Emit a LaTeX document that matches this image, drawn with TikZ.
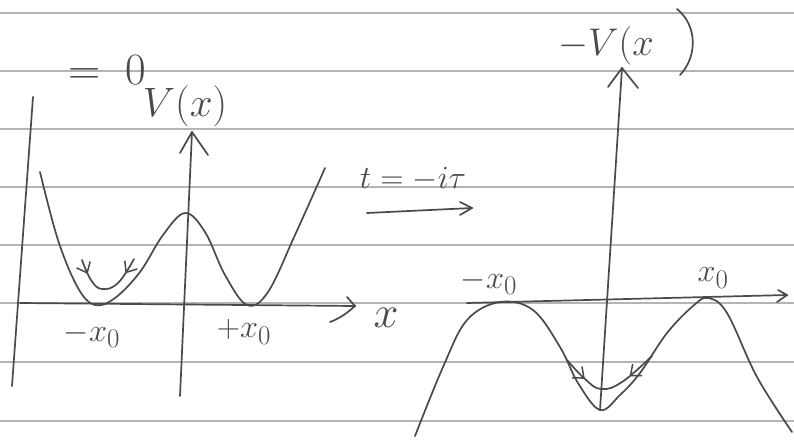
\documentclass[tikz,border=0pt]{standalone}
\usetikzlibrary{arrows.meta,decorations.markings,calc}
\definecolor{inkc}{HTML}{4A4A4A}
\definecolor{rulec}{HTML}{B4B4B4}
\tikzset{mybarb/.tip={Straight Barb[length=9pt,width=15pt,line width=1.5pt]}}
\begin{document}
\begin{tikzpicture}[x=1pt,y=-1pt,
  ink/.style={draw=inkc, line width=1.7pt, line cap=round, line join=round},
  rule/.style={draw=rulec, line width=1.1pt},
  lbl/.style={text=inkc, inner sep=0pt, font=\Huge, scale=#1},
  lbl/.default=1,
  inarrows/.style 2 args={postaction={decorate}, decoration={markings,
     mark=at position #1 with {\arrow[inkc]{mybarb}},
     mark=at position #2 with {\arrowreversed[inkc]{mybarb}}}}]
\useasboundingbox (0,0) rectangle (794,439);
\fill[white] (0,0) rectangle (794,439);
% ruled paper
\foreach \yy in {13,71,129,187,245,303,362,421} \draw[rule] (0,\yy) -- (794,\yy);

% ---------- left picture ----------
\coordinate (mtop) at (33,97);
\coordinate (mbot) at (12,386);
\draw[ink] (mtop) -- (mbot);
\node[lbl=1.8] (eqz) at (107,70) {$=\;0$};

\coordinate (ly0) at (180,396);
\coordinate (ly1) at (192,132);
\draw[ink] (ly0) -- (ly1);
\draw[ink] (ly1) -- ++(-12,21);
\draw[ink] (ly1) -- ++(16,23);
\node[lbl=1.65] (lV) at (185,106) {$V(x)$};

\coordinate (lx0) at (20,303);
\coordinate (lx1) at (355,306);
\draw[ink] (lx0) -- (lx1);
\draw[ink] (lx1) -- ++(-8,-9);
\draw[ink] (lx1) .. controls (345,315) and (338,319) .. (330,322);
\node[lbl=1.8] (lxl) at (386,318) {$x$};

\draw[ink] plot[smooth, tension=0.6] coordinates {(40,172) (58,240) (78,288) (95,305) (115,298) (140,272) (163,235) (185,213) (205,232) (225,275) (247,305) (268,292) (295,235) (325,168)};
\draw[ink, inarrows={0.18}{0.8}] plot[smooth, tension=0.7] coordinates {(82,260) (91,280) (102,289) (118,283) (134,259)};

\node[lbl=1.3] (lmx) at (92,335) {$-x_0$};
\node[lbl=1.3] (lpx) at (244,332) {$+x_0$};

% ---------- middle ----------
\node[lbl=1.3] (tt) at (413,179) {$t=-i\tau$};
\coordinate (ma0) at (367,213);
\coordinate (ma1) at (472,208);
\draw[ink] (ma0) -- (ma1);
\draw[ink] (ma1) -- ++(-12,-6);
\draw[ink] (ma1) -- ++(-12,7);

% ---------- right picture ----------
\coordinate (ry0) at (600,410);
\coordinate (ry1) at (622,68);
\draw[ink] (ry0) -- (ry1);
\draw[ink] (ry1) -- ++(-14,19);
\draw[ink] (ry1) -- ++(16,20);
\node[lbl=1.55] (rV) at (606,46) {$-V(x$};
\draw[ink] (677,9) .. controls (697,25) and (698,56) .. (680,75);

\coordinate (rx0) at (467,303);
\coordinate (rx1) at (787,295);
\draw[ink] (rx0) -- (rx1);
\draw[ink] (rx1) -- ++(-9,-5);
\draw[ink] (rx1) -- ++(-10,7);

\draw[ink] plot[smooth, tension=0.6] coordinates {(415,436) (443,367) (467,320) (500,302) (533,310) (560,347) (578,383) (600,410) (620,395) (640,373) (667,333) (693,306) (708,298) (727,313) (757,377) (792,432)};
\draw[ink, inarrows={0.24}{0.72}] plot[smooth, tension=0.7] coordinates {(567,360) (585,379) (601,389) (622,382) (652,356)};

\node[lbl=1.3] (rmx) at (489,282) {$-x_0$};
\node[lbl=1.3] (rpx) at (713,278) {$x_0$};
\end{tikzpicture}
\end{document}
